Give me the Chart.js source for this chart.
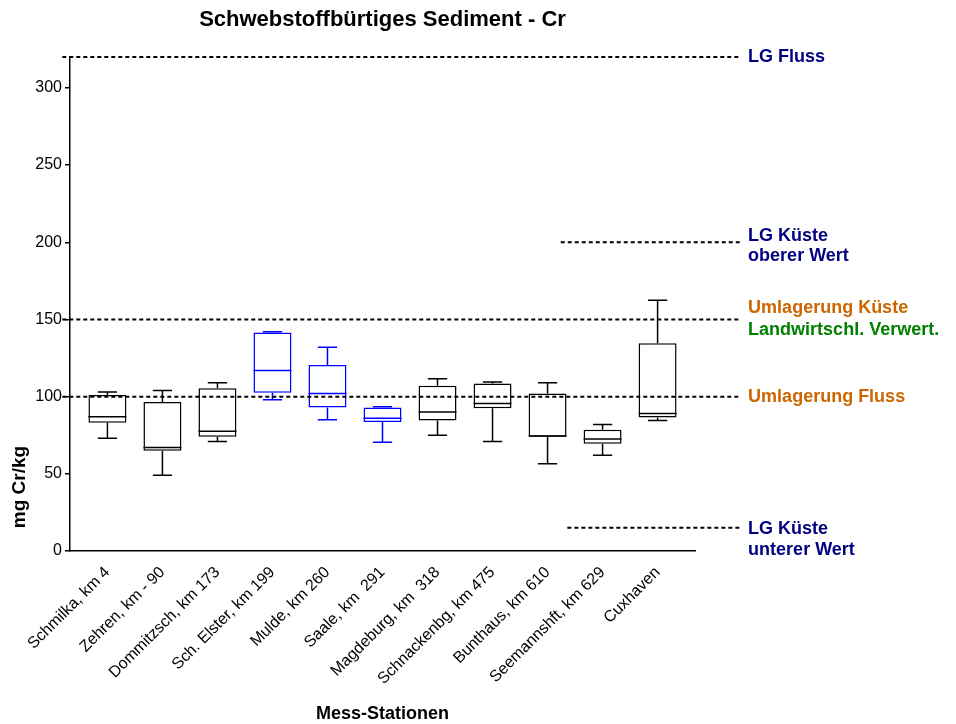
<!DOCTYPE html>
<html>
<head>
<meta charset="utf-8">
<script src="https://cdn.jsdelivr.net/npm/chart.js@4.4.0/dist/chart.umd.min.js"></script>
<style>
  html, body { margin: 0; padding: 0; background: #fff; }
  #wrap { width: 956px; height: 724px; }
</style>
</head>
<body>
<div id="wrap"><canvas id="chart" width="956" height="724"></canvas></div>
<script>
// Stationen und Boxplot-Werte (mg Cr/kg)
const stations = [
  "Schmilka, km 4", "Zehren, km - 90", "Dommitzsch, km 173", "Sch. Elster, km 199",
  "Mulde, km 260", "Saale, km  291", "Magdeburg, km  318", "Schnackenbg, km 475",
  "Bunthaus, km 610", "Seemannshft, km 629", "Cuxhaven"
];
const whiskerMax = [103, 104, 109, 142, 132, 93.5, 111.5, 109.5, 109, 82, 162.5];
const upperQuartile = [101, 96.5, 105.5, 141.5, 120.5, 93, 107, 108.5, 102, 78.5, 134.5];
const medians = [87, 67, 77.5, 117, 102, 86, 90, 95.5, 74.5, 72.5, 89];
const lowerQuartile = [83, 65, 74, 102.5, 93, 83.5, 84.5, 92.5, 74, 69.5, 86.5];
const whiskerMin = [73, 49, 71, 98, 85, 70.5, 75, 71, 56.5, 62, 84.5];
const tributary = [false, false, false, true, true, true, false, false, false, false, false];

const yTicks = [0, 50, 100, 150, 200, 250, 300];

// Grenz- und Richtwerte
const limitValues = [320, 200, 150, 100, 15];
const limitLabels = [
  ["LG Fluss"],
  ["LG Küste", "oberer Wert"],
  ["Umlagerung Küste", "Landwirtschl. Verwert."],
  ["Umlagerung Fluss"],
  ["LG Küste", "unterer Wert"]
];

// Darstellung
const limitStart = [-0.82, 8.24, -0.82, -0.82, 8.36];
const limitEnd = 11.5;
const limitColors = [
  ["#000080"],
  ["#000080", "#000080"],
  ["#cc6600", "#008000"],
  ["#cc6600"],
  ["#000080", "#000080"]
];
const limitLabelDy = [[0], [-6, 14], [-11, 11], [0], [1, 22]];
const FONT = "'Liberation Sans', Arial, sans-serif";

const boxColor = (i) => (tributary[i] ? "#0000ff" : "#000000");

const boxPlugin = {
  id: "boxParts",
  afterDatasetsDraw(chart) {
    const { ctx } = chart;
    const xs = chart.scales.x;
    const ys = chart.scales.y;
    const capHalf = (xs.getPixelForValue(1) - xs.getPixelForValue(0)) * 0.175;
    const meta = chart.getDatasetMeta(0);
    ctx.save();
    ctx.lineWidth = 1.5;
    stations.forEach((s, i) => {
      const bar = meta.data[i];
      const cx = xs.getPixelForValue(i);
      const half = bar.width / 2;
      ctx.strokeStyle = boxColor(i);
      ctx.beginPath();
      // Whisker oben
      ctx.moveTo(cx, ys.getPixelForValue(upperQuartile[i]));
      ctx.lineTo(cx, ys.getPixelForValue(whiskerMax[i]));
      ctx.moveTo(cx - capHalf, ys.getPixelForValue(whiskerMax[i]));
      ctx.lineTo(cx + capHalf, ys.getPixelForValue(whiskerMax[i]));
      // Whisker unten
      ctx.moveTo(cx, ys.getPixelForValue(lowerQuartile[i]));
      ctx.lineTo(cx, ys.getPixelForValue(whiskerMin[i]));
      ctx.moveTo(cx - capHalf, ys.getPixelForValue(whiskerMin[i]));
      ctx.lineTo(cx + capHalf, ys.getPixelForValue(whiskerMin[i]));
      // Median
      ctx.moveTo(cx - half, ys.getPixelForValue(medians[i]));
      ctx.lineTo(cx + half, ys.getPixelForValue(medians[i]));
      ctx.stroke();
    });
    ctx.restore();
  },
  afterDraw(chart) {
    const { ctx, chartArea } = chart;
    const xs = chart.scales.x;
    const ys = chart.scales.y;
    ctx.save();

    // gestrichelte Grenzlinien
    ctx.strokeStyle = "#000";
    ctx.lineWidth = 2;
    ctx.setLineDash([4, 3]);
    limitValues.forEach((v, k) => {
      const y = ys.getPixelForValue(v);
      ctx.beginPath();
      ctx.moveTo(xs.getPixelForValue(limitStart[k]), y);
      ctx.lineTo(xs.getPixelForValue(limitEnd), y);
      ctx.stroke();
    });
    ctx.setLineDash([]);

    // Beschriftung rechts
    ctx.font = "bold 18px " + FONT;
    ctx.textAlign = "left";
    ctx.textBaseline = "middle";
    const lx = xs.getPixelForValue(limitEnd) + 8;
    limitValues.forEach((v, k) => {
      const y = ys.getPixelForValue(v);
      limitLabels[k].forEach((txt, j) => {
        ctx.fillStyle = limitColors[k][j];
        ctx.fillText(txt, lx, y + limitLabelDy[k][j]);
      });
    });

    // Titel
    ctx.fillStyle = "#000";
    ctx.textAlign = "center";
    ctx.font = "bold 22px " + FONT;
    ctx.fillText("Schwebstoffbürtiges Sediment - Cr", (chartArea.left + chartArea.right) / 2, 20);

    // Achsentitel
    ctx.font = "bold 18px " + FONT;
    ctx.fillText("Mess-Stationen", (chartArea.left + chartArea.right) / 2, 714);

    ctx.translate(20, 487);
    ctx.rotate(-Math.PI / 2);
    ctx.font = "bold 19px " + FONT;
    ctx.fillText("mg Cr/kg", 0, 0);
    ctx.restore();
  }
};

const ctx = document.getElementById("chart").getContext("2d");
new Chart(ctx, {
  type: "bar",
  data: {
    datasets: [
      {
        data: stations.map((s, i) => ({ x: i, y: [lowerQuartile[i], upperQuartile[i]] })),
        backgroundColor: "#ffffff",
        borderColor: stations.map((s, i) => boxColor(i)),
        borderWidth: 1.5,
        borderSkipped: false,
        barPercentage: 0.69,
        categoryPercentage: 1.0,
      },
    ],
  },
  options: {
    responsive: false,
    animation: false,
    layout: { padding: { left: 0, top: 57, right: 261, bottom: 0 } },
    plugins: { legend: { display: false }, title: { display: false }, tooltip: { enabled: false } },
    scales: {
      x: {
        type: "linear",
        offset: false,
        min: -0.68,
        max: 10.68,
        afterBuildTicks: (scale) => {
          scale.ticks = stations.map((s, i) => ({ value: i }));
        },
        afterFit: (scale) => {
          scale.height = 173;
        },
        ticks: {
          autoSkip: false,
          minRotation: 45,
          maxRotation: 45,
          color: "#000",
          padding: 4,
          font: { family: FONT, size: 16 },
          callback: (v) => stations[v],
        },
        grid: { display: false },
        border: { display: true, color: "#000", width: 1.5 },
      },
      y: {
        min: 0,
        max: 320,
        afterBuildTicks: (scale) => {
          scale.ticks = yTicks.map((v) => ({ value: v }));
        },
        afterFit: (scale) => {
          scale.width = 70;
        },
        ticks: {
          color: "#000",
          padding: 3,
          font: { family: FONT, size: 16 },
        },
        grid: { drawOnChartArea: false, drawTicks: true, tickLength: 5, color: "#000", lineWidth: 1.5 },
        border: { display: true, color: "#000", width: 1.5 },
      },
    },
  },
  plugins: [boxPlugin],
});
</script>
</body>
</html>
